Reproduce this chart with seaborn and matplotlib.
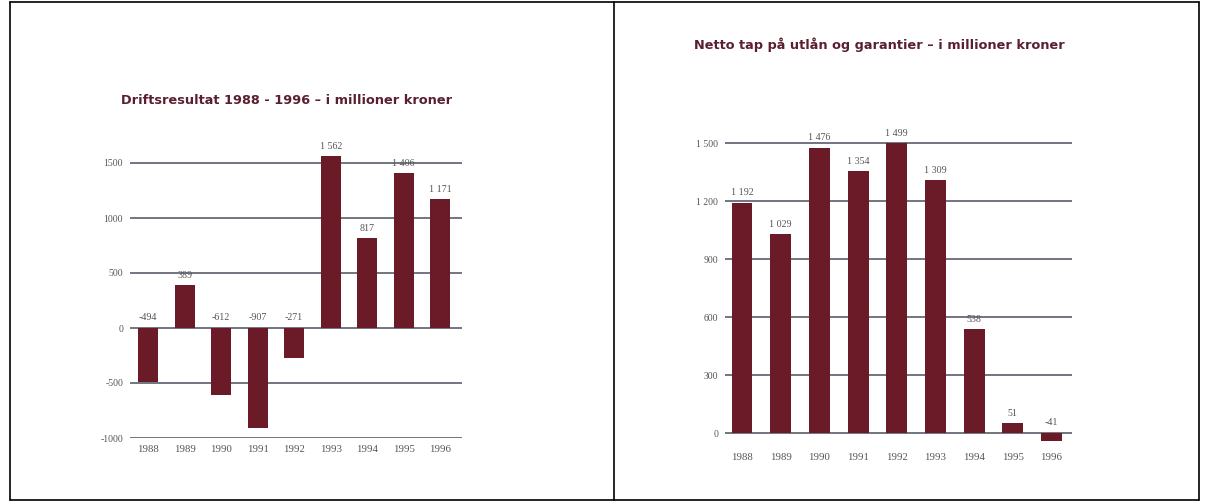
import matplotlib
matplotlib.use("Agg")
import matplotlib.pyplot as plt
import seaborn as sns
import pandas as pd
from matplotlib.lines import Line2D

# ---- data ----
years = ["1988", "1989", "1990", "1991", "1992", "1993", "1994", "1995", "1996"]
drift_values = [-494, 389, -612, -907, -271, 1562, 817, 1406, 1171]
tap_values = [1192, 1029, 1476, 1354, 1499, 1309, 538, 51, -41]
left_ticks = [-1000, -500, 0, 500, 1000, 1500]
left_ticklabels = ["-1000", "-500", "0", "500", "1000", "1500"]
right_ticks = [0, 300, 600, 900, 1200, 1500]
right_ticklabels = ["0", "300", "600", "900", "1 200", "1 500"]
left_title = "Driftsresultat 1988 - 1996 \u2013 i millioner kroner"
right_title = "Netto tap p\u00e5 utl\u00e5n og garantier \u2013 i millioner kroner"

sns.set_theme(style="white")
plt.rcParams["font.family"] = ["DejaVu Sans"]

W, H = 1209, 503
fig = plt.figure(figsize=(W / 100, H / 100), dpi=100)
fig.patch.set_facecolor("white")

BAR = "#6b1b27"
GRID = "#666a76"
TXT = "#555555"
TITLE_C = "#5a2030"
SERIF = "Liberation Serif"


def px_axes(x0, y0, x1, y1):
    return fig.add_axes([x0 / W, 1 - y1 / H, (x1 - x0) / W, (y1 - y0) / H])


def fmt(v):
    return f"{v:,}".replace(",", " ")


def draw(ax, values, ticks, ticklabels, ylim, xlim, width):
    df = pd.DataFrame({"year": years, "value": values})
    sns.barplot(data=df, x="year", y="value", color=BAR, width=width,
                saturation=1, ax=ax, zorder=3, linewidth=0, edgecolor=BAR)
    ax.set_ylim(*ylim)
    ax.set_xlim(*xlim)
    ax.set_yticks(ticks)
    ax.set_yticklabels(ticklabels, fontfamily=SERIF, fontsize=7, color=TXT)
    ax.tick_params(axis="y", length=0, pad=5)
    ax.tick_params(axis="x", length=0, pad=5)
    for lab in ax.get_xticklabels():
        lab.set_fontfamily(SERIF)
        lab.set_fontsize(7.8)
        lab.set_color(TXT)
    ax.set_xlabel("")
    ax.set_ylabel("")
    ax.yaxis.grid(True, color=GRID, linewidth=1.3, zorder=1)
    ax.set_axisbelow(True)
    for s in ax.spines.values():
        s.set_visible(False)
    for i, v in enumerate(values):
        ax.annotate(fmt(v), (i, max(v, 0)), xytext=(0, 4), textcoords="offset points",
                    ha="center", va="bottom", fontfamily=SERIF, fontsize=7.2, color=TXT)


# left chart
axL = px_axes(130, 141, 462, 438)
draw(axL, drift_values, left_ticks, left_ticklabels, (-1000, 1700), (-0.5, 8.6), 0.55)
fig.text(287 / W, 1 - 100 / H, left_title, ha="center", va="center",
         fontsize=9.3, fontweight="bold", color=TITLE_C)

# right chart
axR = px_axes(725, 120, 1072, 446)
draw(axR, tap_values, right_ticks, right_ticklabels, (-67, 1620), (-0.44, 8.53), 0.54)
fig.text(879 / W, 1 - 45 / H, right_title, ha="center", va="center",
         fontsize=9.3, fontweight="bold", color=TITLE_C)

# outer frame and divider
def fline(x0, y0, x1, y1):
    fig.add_artist(Line2D([x0 / W, x1 / W], [1 - y0 / H, 1 - y1 / H],
                          color="black", linewidth=1.2, transform=fig.transFigure))

fline(10, 1.5, 1199, 1.5)
fline(10, 500, 1199, 500)
fline(10, 1.5, 10, 500)
fline(1199, 1.5, 1199, 500)
fline(614, 1.5, 614, 500)

fig.savefig("out.png", dpi=100, facecolor="white")
